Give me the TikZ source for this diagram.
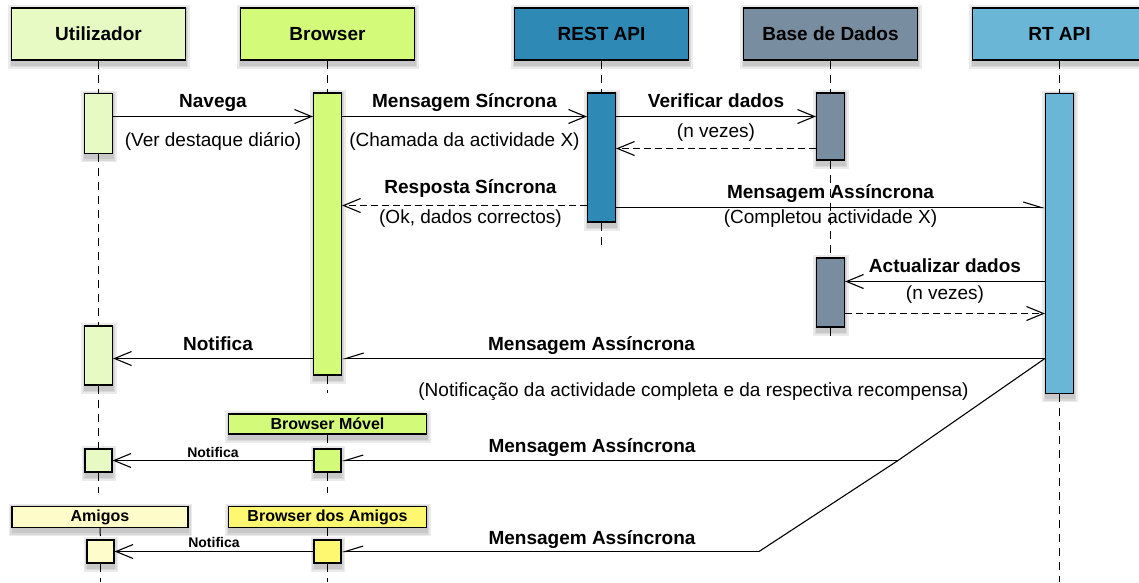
\documentclass[tikz,border=0pt]{standalone}
\usepackage{fontspec}
\setmainfont{Liberation Sans}
\usetikzlibrary{arrows.meta, backgrounds}

\definecolor{utilFill}{RGB}{232,250,196}
\definecolor{browserFill}{RGB}{212,250,122}
\definecolor{restFill}{RGB}{46,137,180}
\definecolor{dbFill}{RGB}{120,141,160}
\definecolor{rtFill}{RGB}{106,182,215}
\definecolor{friendsFill}{RGB}{254,252,200}
\definecolor{friendsBrowserFill}{RGB}{254,248,112}

\begin{document}
\begin{tikzpicture}[x=1pt, y=-1pt,
		actor/.style={
			rectangle,
			draw=black,
			line width=1.2pt,
			minimum width=174pt,
			minimum height=52pt,
			inner sep=0pt,
			font=\fontsize{19}{22}\selectfont\bfseries
		},
		minoractor/.style={
			actor,
			minimum width=198pt,
			minimum height=21pt,
			font=\fontsize{16}{18}\selectfont\bfseries
		},
		act/.style={
			rectangle,
			draw=black,
			line width=1.2pt,
			minimum width=28pt,
			inner sep=0pt
		},
		shadowpart/.style={fill=black, opacity=0.08},
		life/.style={line width=1pt, dash pattern=on 8pt off 6pt},
		msg/.style={-{Straight Barb[length=17pt, width=14pt]}, line width=1.1pt},
		reply/.style={msg, dash pattern=on 7pt off 4pt},
		async/.style={-{Straight Barb[harpoon, length=18pt, width=11pt]}, line width=1.1pt},
		asyncback/.style={-{Straight Barb[harpoon, swap, length=18pt, width=11pt]}, line width=1.1pt},
		plain/.style={line width=1.1pt},
		lbl/.style={anchor=base, inner sep=0pt, font=\fontsize{19}{22}\selectfont\bfseries},
		note/.style={anchor=base, inner sep=0pt, font=\fontsize{19}{22}\selectfont},
		smalllbl/.style={anchor=base, inner sep=0pt, font=\fontsize{14}{16}\selectfont\bfseries}]

	\useasboundingbox (0,0) rectangle (1139,582);

	% participants
	\node [actor, fill=utilFill] (util) at (98.5,34) {Utilizador};
	\node [actor, fill=browserFill] (browser) at (327.5,34) {Browser};
	\node [actor, fill=restFill] (rest) at (601.5,34) {REST API};
	\node [actor, fill=dbFill] (db) at (830.5,34) {Base de Dados};
	\node [actor, fill=rtFill] (rt) at (1059.5,34) {RT API};
	\node [minoractor, fill=browserFill, minimum height=20pt] (mobile) at (327.5,424) {Browser Móvel};
	\node [minoractor, fill=friendsFill, minimum width=176pt] (friends) at (100,517) {Amigos};
	\node [minoractor, fill=friendsBrowserFill] (fbrowser) at (327.5,517) {Browser dos Amigos};

	% activations
	\node [act, fill=utilFill, minimum height=60pt] (ua1) at (98.5,123.5) {};
	\node [act, fill=utilFill, minimum height=59pt] (ua2) at (98.5,355.5) {};
	\node [act, fill=utilFill, minimum width=27pt, minimum height=23pt] (uma) at (98.5,460.5) {};
	\node [act, fill=friendsFill, minimum width=27pt, minimum height=23pt] (fa) at (100.5,551.5) {};
	\node [act, fill=browserFill, minimum height=282pt] (ba) at (327.5,234) {};
	\node [act, fill=browserFill, minimum width=27pt, minimum height=23pt] (bma) at (327.5,460.5) {};
	\node [act, fill=friendsBrowserFill, minimum width=27pt, minimum height=23pt] (fba) at (327.5,551.5) {};
	\node [act, fill=restFill, minimum height=129pt] (ra) at (601.5,157.5) {};
	\node [act, fill=dbFill, minimum height=67pt] (da1) at (830.5,126.5) {};
	\node [act, fill=dbFill, minimum height=69pt] (da2) at (830.5,292.5) {};
	\node [act, fill=rtFill, minimum height=300pt] (rta) at (1059.5,243.5) {};

	% soft shadows
	\begin{scope}[on background layer]
		\foreach \n in {util,browser,rest,db,rt,mobile,friends,fbrowser,ua1,ua2,uma,fa,ba,bma,fba,ra,da1,da2,rta}
			\foreach \k in {0,1.5,3}
				\fill [shadowpart] ([xshift=0.5pt-\k pt, yshift=-5pt-\k pt]\n.south west)
					rectangle ([xshift=0.5pt+\k pt, yshift=-1pt+\k pt]\n.north east);
	\end{scope}

	% lifeline ends and message rows
	\coordinate (bStop) at (327.5,393);
	\coordinate (uStop) at (98.5,493);
	\coordinate (bmStop) at (327.5,493);
	\coordinate (rStop) at (601.5,250);
	\coordinate (dStop) at (830.5,340);
	\coordinate (rtStop) at (1059.5,582);
	\coordinate (fStop) at (100.5,582);
	\coordinate (fbStop) at (327.5,582);
	\coordinate (row1) at (0,116.5);
	\coordinate (row2) at (0,148.5);
	\coordinate (row3) at (0,205.5);
	\coordinate (row4) at (0,207.5);
	\coordinate (row5) at (0,281.5);
	\coordinate (row6) at (0,313.5);
	\coordinate (row7) at (0,358.5);
	\coordinate (fork1) at (898,460.5);
	\coordinate (fork2) at (759,551.5);

	% lifelines
	\draw [life] (util) -- (ua1);
	\draw [life] (ua1) -- (ua2);
	\draw [life] (ua2) -- (uma);
	\draw [life] (uma) -- (uStop);
	\draw [life] (friends) -- (fa);
	\draw [life] (fa) -- (fStop);
	\draw [life] (browser) -- (ba);
	\draw [life] (ba) -- (bStop);
	\draw [life] (mobile) -- (bma);
	\draw [life] (bma) -- (bmStop);
	\draw [life] (fbrowser) -- (fba);
	\draw [life] (fba) -- (fbStop);
	\draw [life] (rest) -- (ra);
	\draw [life] (ra) -- (rStop);
	\draw [life] (db) -- (da1);
	\draw [life] (da1) -- (da2);
	\draw [life] (da2) -- (dStop);
	\draw [life] (rt) -- (rta);
	\draw [life] (rta) -- (rtStop);

	% messages
	\draw [msg] (ua1.east |- row1) -- node [lbl, midway, yshift=9.5pt] {Navega}
		node [note, midway, yshift=-29.5pt] {(Ver destaque diário)} (ba.west |- row1);
	\draw [msg] (ba.east |- row1) -- node [lbl, midway, yshift=9.5pt] {Mensagem Síncrona}
		node [note, midway, yshift=-29.5pt] {(Chamada da actividade X)} (ra.west |- row1);
	\draw [msg] (ra.east |- row1) -- node [lbl, midway, yshift=9.5pt] {Verificar dados}
		node [note, midway, yshift=-21pt] {(n vezes)} (da1.west |- row1);
	\draw [reply] (da1.west |- row2) -- (ra.east |- row2);
	\draw [reply] (ra.west |- row3) -- node [lbl, midway, xshift=6pt, yshift=12pt] {Resposta Síncrona}
		node [note, midway, xshift=6pt, yshift=-18pt] {(Ok, dados correctos)} (ba.east |- row3);
	\draw [async] (ra.east |- row4) -- node [lbl, midway, yshift=9pt] {Mensagem Assíncrona}
		node [note, midway, yshift=-16pt] {(Completou actividade X)} (rta.west |- row4);
	\draw [msg] (rta.west |- row5) -- node [lbl, midway, yshift=9pt] {Actualizar dados}
		node [note, midway, yshift=-18pt] {(n vezes)} (da2.east |- row5);
	\draw [reply] (da2.east |- row6) -- (rta.west |- row6);
	\draw [msg] (ba.west |- row7) -- node [lbl, midway, xshift=5pt, yshift=8.5pt] {Notifica} (ua2.east |- row7);
	\draw [asyncback] (rta.west |- row7) -- node [lbl, pos=0.645, yshift=8pt] {Mensagem Assíncrona}
		node [note, midway, yshift=-38pt] {(Notificação da actividade completa e da respectiva recompensa)} (ba.east |- row7);
	\draw [plain] (rta.west |- row7) -- (fork1) -- (fork2);
	\draw [asyncback] (fork1) -- node [lbl, pos=0.55, yshift=8pt] {Mensagem Assíncrona} (bma);
	\draw [asyncback] (fork2) -- node [lbl, pos=0.40, yshift=7pt] {Mensagem Assíncrona} (fba);
	\draw [msg] (bma) -- node [smalllbl, midway, yshift=3pt] {Notifica} (uma);
	\draw [msg] (fba) -- node [smalllbl, midway, yshift=4pt] {Notifica} (fa);
\end{tikzpicture}
\end{document}
